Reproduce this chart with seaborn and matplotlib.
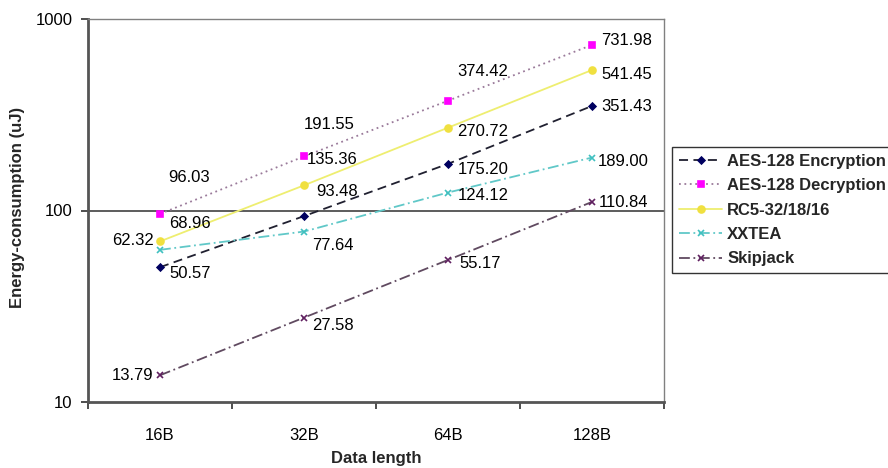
import matplotlib
matplotlib.use("Agg")
import matplotlib.pyplot as plt
import matplotlib.ticker as mticker
import numpy as np
import pandas as pd
import seaborn as sns

## Data
data_length = ['16B', '32B', '64B', '128B']
aes_enc = [50.57, 93.48, 175.20, 351.43]
aes_dec = [96.03, 191.55, 374.42, 731.98]
rc5 = [68.96, 135.36, 270.72, 541.45]
xxtea = [62.32, 77.64, 124.12, 189.00]
skipjack = [13.79, 27.58, 55.17, 110.84]
series_names = ['AES-128 Encryption', 'AES-128 Decryption', 'RC5-32/18/16', 'XXTEA', 'Skipjack']
y_ticks = [10, 100, 1000]

## Styles (line colour, marker colour, linestyle, marker, marker size)
styles = {
    'AES-128 Encryption': ('#202030', '#000060', (0, (5, 3)), 'D', 3.5),
    'AES-128 Decryption': ('#9a7a9a', '#ff00ff', (0, (1, 2)), 's', 5),
    'RC5-32/18/16': ('#eeee70', '#f0e040', '-', 'o', 5),
    'XXTEA': ('#60c8c8', '#40c0c0', (0, (6, 2, 1, 2)), 'x', 5),
    'Skipjack': ('#604a60', '#602060', (0, (6, 2, 1, 2)), 'x', 4.5),
}

# label offsets in image pixels (dx right, dy down) for each value label
label_offsets = {
    'AES-128 Encryption': [(30, 6), (33, -25), (35, 6), (35, 1)],
    'AES-128 Decryption': [(29, -36), (25, -32), (35, -29), (35, -4)],
    'RC5-32/18/16': [(30, -18), (28, -26), (35, 4), (35, 4)],
    'XXTEA': [(-27, -9), (29, 14), (35, 3), (31, 4)],
    'Skipjack': [(-27, 0), (29, 8), (32, 4), (31, 1)],
}

values = [aes_enc, aes_dec, rc5, xxtea, skipjack]
df = pd.DataFrame({
    'Data length': np.tile(data_length, len(series_names)),
    'Energy': np.concatenate(values),
    'Algorithm': np.repeat(series_names, len(data_length)),
})

sns.set_style('white')
plt.rcParams['font.family'] = ['Liberation Sans', 'DejaVu Sans']
FS = 12

fig, ax = plt.subplots(figsize=(8.88, 4.68), dpi=100)
fig.subplots_adjust(left=88/888, right=664/888, top=1-19/468, bottom=1-402/468)

handles = []
for name in series_names:
    lc, mc, ls, mk, ms = styles[name]
    sub = df[df['Algorithm'] == name]
    sns.lineplot(data=sub, x='Data length', y='Energy', ax=ax, color=lc, linestyle=ls,
                 linewidth=1.3, marker=mk, markersize=ms, markerfacecolor=mc,
                 markeredgecolor=mc, markeredgewidth=1.2, label=name, legend=False)
    handles.append(ax.lines[-1])
    for i, (xv, yv) in enumerate(zip(sub['Data length'], sub['Energy'])):
        dx, dy = label_offsets[name][i]
        ax.annotate(f'{yv:.2f}', (i, yv), xytext=(dx, -dy), textcoords='offset pixels',
                    ha='center', va='center', fontsize=FS, color='black')

ax.set_yscale('log')
ax.set_ylim(10, 1000)
ax.set_xlim(-0.5, 3.5)
ax.yaxis.set_major_locator(mticker.FixedLocator(y_ticks))
ax.yaxis.set_major_formatter(mticker.FixedFormatter([str(t) for t in y_ticks]))
ax.yaxis.set_minor_locator(mticker.NullLocator())
ax.axhline(100, color='#303030', linewidth=1.1, zorder=0)

ax.set_xticks(range(len(data_length)))
ax.set_xticklabels(data_length)
ax.set_xticks(np.arange(-0.5, len(data_length), 1.0), minor=True)
ax.tick_params(axis='x', which='major', length=0, pad=19, labelsize=FS, labelcolor='black')
ax.tick_params(axis='x', which='minor', length=5, width=1.3, direction='out', color='#404040', bottom=True)
ax.tick_params(axis='y', which='major', length=5, width=1.3, direction='out', color='#404040',
               pad=6, labelsize=FS, labelcolor='black', left=True)

for side in ['left', 'bottom']:
    ax.spines[side].set_color('#555555')
    ax.spines[side].set_linewidth(2)
for side in ['top', 'right']:
    ax.spines[side].set_color('#808080')
    ax.spines[side].set_linewidth(1)

ax.set_xlabel('')
ax.set_ylabel('')
fig.text(376/888, 1-458/468, 'Data length', ha='center', va='center', fontsize=FS, fontweight='bold')
fig.text(18/888, 1-207/468, 'Energy-consumption (uJ)', ha='center', va='center', rotation=90,
         fontsize=FS, fontweight='bold')

leg = fig.legend(handles, series_names, loc='upper left', bbox_to_anchor=(672/888, 1-147/468),
                 frameon=True, fancybox=False, handlelength=2.6, handletextpad=0.3,
                 borderpad=0.42, borderaxespad=0, labelspacing=0.56,
                 prop={'size': FS, 'weight': 'bold'})
leg.get_frame().set_edgecolor('black')
leg.get_frame().set_linewidth(1)

fig.savefig('out.png', dpi=100)
